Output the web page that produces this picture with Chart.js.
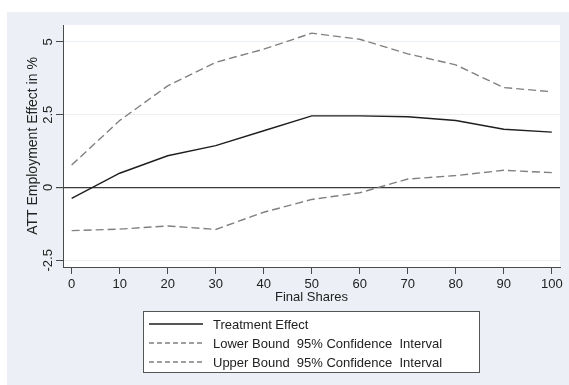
<!DOCTYPE html>
<html>
<head>
<meta charset="utf-8">
<script src="https://cdn.jsdelivr.net/npm/chart.js@4/dist/chart.umd.min.js"></script>
<style>
	html, body { margin: 0; padding: 0; background: #fff; }
	#wrap { width: 569px; height: 385px; position: relative; }
</style>
</head>
<body>
<div id="wrap"><canvas id="chart"></canvas></div>
<script>
const shares = [0, 10, 20, 30, 40, 50, 60, 70, 80, 90, 100];
const treatment = [-0.37, 0.49, 1.09, 1.44, 1.95, 2.46, 2.46, 2.43, 2.3, 2.0, 1.9];
const lower = [-1.48, -1.43, -1.32, -1.44, -0.85, -0.41, -0.18, 0.29, 0.41, 0.59, 0.51];
const upper = [0.77, 2.3, 3.49, 4.3, 4.75, 5.3, 5.09, 4.59, 4.21, 3.43, 3.29];
const xTicks = [0, 10, 20, 30, 40, 50, 60, 70, 80, 90, 100];
const yTicks = [-2.5, 0, 2.5, 5];

const font = "Liberation Sans, Arial, sans-serif";
const bg = "#eceff5";
const axisClr = "#4a4a4a";
const textClr = "#222";

const points = vals => shares.map((x, i) => ({ x, y: vals[i] }));

// Stata style frame: bluish-grey outer box, white plot region
const frame = {
	id: "frame",
	beforeDraw(chart) {
		const { ctx, chartArea: a } = chart;
		ctx.save();
		ctx.fillStyle = "#fff";
		ctx.fillRect(0, 0, chart.width, chart.height);
		ctx.fillStyle = bg;
		ctx.fillRect(7, 12, chart.width - 7, chart.height - 12);
		ctx.fillStyle = "#fff";
		ctx.fillRect(a.left, a.top, a.right - a.left, a.bottom - a.top);
		ctx.restore();
	},
	afterDraw(chart) {
		const { ctx, chartArea: a, scales } = chart;
		ctx.save();
		ctx.fillStyle = textClr;
		ctx.font = `13px ${font}`;
		ctx.textAlign = "center";
		ctx.textBaseline = "middle";

		// rotated y tick labels
		yTicks.forEach(v => {
			const y = scales.y.getPixelForValue(v);
			ctx.save();
			ctx.translate(48, y);
			ctx.rotate(-Math.PI / 2);
			ctx.fillText(String(v), 0, 0);
			ctx.restore();
		});

		// axis titles
		ctx.save();
		ctx.font = `14px ${font}`;
		ctx.translate(33, (a.top + a.bottom) / 2);
		ctx.rotate(-Math.PI / 2);
		ctx.fillText("ATT Employment Effect in %", 0, 0);
		ctx.restore();
		ctx.fillText("Final Shares", (a.left + a.right) / 2, 297);

		// legend box
		const box = { x: 143.5, y: 311.5, w: 336, h: 61 };
		ctx.fillStyle = "#fff";
		ctx.fillRect(box.x, box.y, box.w, box.h);
		ctx.strokeStyle = "#555";
		ctx.lineWidth = 1;
		ctx.strokeRect(box.x, box.y, box.w, box.h);

		ctx.textAlign = "left";
		chart.data.datasets.forEach((ds, i) => {
			const y = 324 + i * 19;
			ctx.save();
			ctx.strokeStyle = ds.borderColor;
			ctx.lineWidth = ds.borderWidth;
			ctx.setLineDash(ds.borderDash && ds.borderDash.length ? [5, 3] : []);
			ctx.beginPath();
			ctx.moveTo(149, y);
			ctx.lineTo(203, y);
			ctx.stroke();
			ctx.restore();
			ctx.fillStyle = textClr;
			ctx.fillText(ds.label, 213, y + 1);
		});
		ctx.restore();
	},
};

new Chart(document.getElementById("chart"), {
	type: "line",
	data: {
		datasets: [
			{
				label: "Treatment Effect",
				data: points(treatment),
				borderColor: "#1e1e1e",
				borderWidth: 1.4,
				borderDash: [],
			},
			{
				label: "Lower Bound  95% Confidence  Interval",
				data: points(lower),
				borderColor: "#808080",
				borderWidth: 1.4,
				borderDash: [8, 4],
			},
			{
				label: "Upper Bound  95% Confidence  Interval",
				data: points(upper),
				borderColor: "#808080",
				borderWidth: 1.4,
				borderDash: [8, 4],
			},
		],
	},
	plugins: [frame],
	options: {
		responsive: true,
		maintainAspectRatio: false,
		animation: false,
		events: [],
		elements: { point: { radius: 0 }, line: { tension: 0 } },
		layout: { padding: { top: 25, right: 9, left: 0, bottom: 0 } },
		plugins: {
			legend: { display: false },
			tooltip: { enabled: false },
		},
		scales: {
			x: {
				type: "linear",
				min: -1.8,
				max: 101.7,
				afterBuildTicks: s => (s.ticks = xTicks.map(value => ({ value }))),
				afterFit: s => (s.height = 118),
				border: { color: axisClr, width: 1 },
				grid: {
					drawOnChartArea: false,
					drawTicks: true,
					tickLength: 7,
					tickColor: axisClr,
				},
				ticks: {
					color: textClr,
					padding: 3,
					maxRotation: 0,
					font: { family: font, size: 13 },
				},
			},
			y: {
				type: "linear",
				min: -2.73,
				max: 5.58,
				afterBuildTicks: s => (s.ticks = yTicks.map(value => ({ value }))),
				afterFit: s => (s.width = 63),
				border: { color: axisClr, width: 1 },
				grid: {
					color: ctx => (ctx.tick && ctx.tick.value === 0 ? "#3a3a3a" : "#eaeff4"),
					lineWidth: ctx => (ctx.tick && ctx.tick.value === 0 ? 1.2 : 1),
					drawTicks: true,
					tickLength: 7,
					tickColor: axisClr,
				},
				ticks: { display: false },
			},
		},
	},
});
</script>
</body>
</html>
